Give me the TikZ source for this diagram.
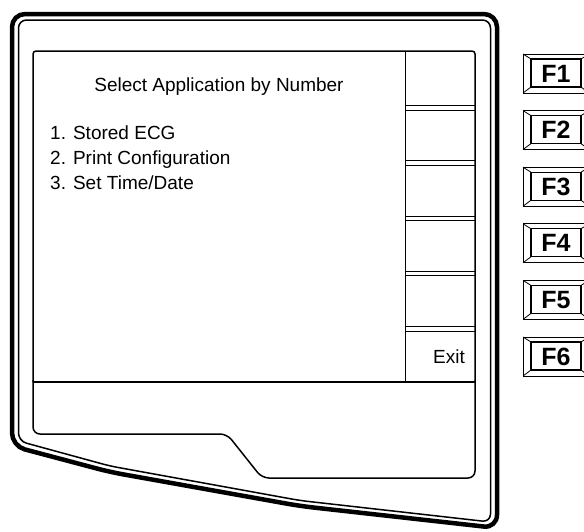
\documentclass[tikz,border=0pt]{standalone}
\usepackage{fontspec}
\setmainfont{Liberation Sans}
\usetikzlibrary{calc}
\tikzset{
    fkey/.style={draw,line width=1pt,minimum width=66pt,minimum height=39pt,inner sep=0,outer sep=0,font=\fontsize{25}{25}\selectfont\bfseries},
    scrtext/.style={anchor=base west,inner sep=0,font=\fontsize{19}{22}\selectfont},
    scrline/.style={line width=1.5pt}
}
\begin{document}
\begin{tikzpicture}[x=1pt,y=-1pt]
    \useasboundingbox (0,0) rectangle (584,531);
    \clip (0,0) rectangle (584,531);
    \draw[line width=4.5pt,rounded corners=13pt] (12,250) -- (12,14) -- (497,14) -- (497,528) -- (300,506) -- (110,472) -- (12,446) -- cycle;
    \draw[line width=1.5pt,rounded corners=8pt] (18.5,250) -- (18.5,20) -- (490.5,20) -- (490.5,522) -- (300,500.5) -- (110,466) -- (18.5,441) -- cycle;
    \draw[scrline,rounded corners=3pt] (33,382) -- (33,51) -- (475,51) -- (475,382);
    \draw[scrline,rounded corners=7pt] (33,380) -- (33,434) -- (227,434) -- (262,478) -- (475,478) -- (475,380);
    \draw[scrline] (33,382) -- (475,382);
    \draw[line width=1pt] (405,51) -- (405,382);
    \foreach \y in {105.5,160.8,216.1,271.4,326.7} {
        \draw[line width=1pt] (405,\y) -- (475,\y);
        \draw[line width=1pt] (405,\y+4.5) -- (475,\y+4.5);
    }
    \node[scrtext,anchor=base] (title) at (219,91) {Select Application by Number};
    \node[scrtext] (item1) at (50,139) {1. Stored ECG};
    \node[scrtext] (item2) at (50,164) {2. Print Configuration};
    \node[scrtext] (item3) at (50,189) {3. Set Time/Date};
    \node[scrtext,anchor=base east] (exit) at (465,363) {Exit};
    \foreach \i in {1,...,6} {
        \node[fkey] (f\i) at (556,{73.5+56.6*(\i-1)}) {F\i};
        \draw[line width=1.2pt] ($(f\i.north west)+(8,5)$) rectangle ($(f\i.south east)+(-8,-6)$);
        \draw[line width=0.8pt] (f\i.north west) -- ++(8,5) (f\i.north east) -- ++(-8,5)
            (f\i.south west) -- ++(8,-6) (f\i.south east) -- ++(-8,-6);
    }
\end{tikzpicture}
\end{document}
